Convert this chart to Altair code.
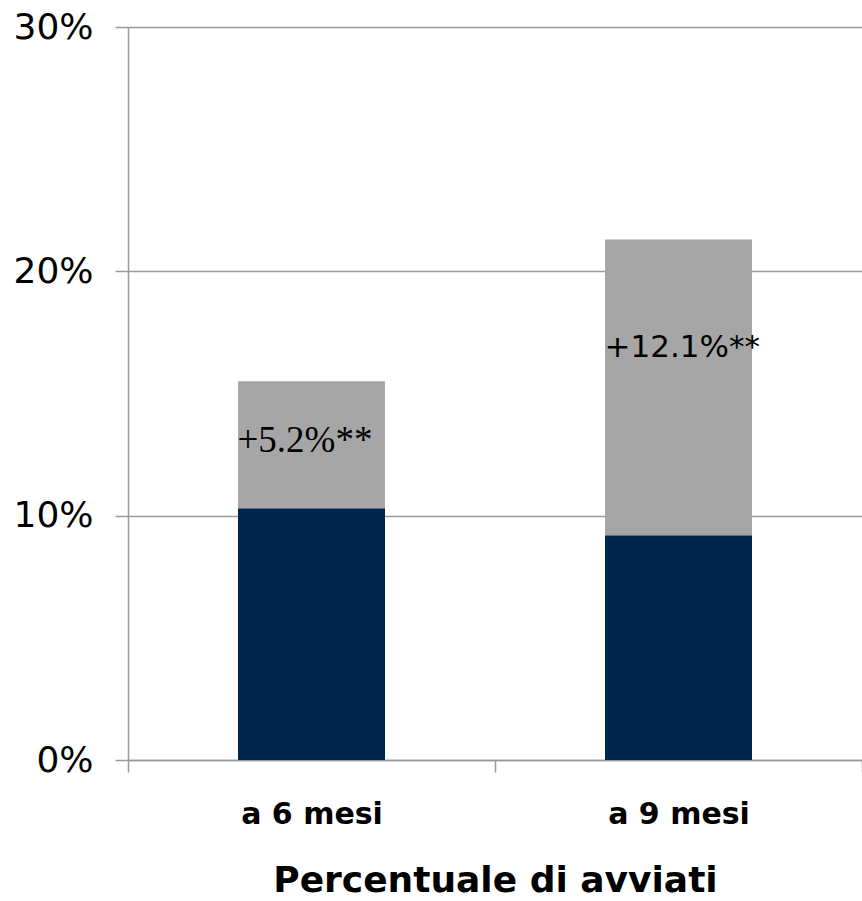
import altair as alt
import pandas as pd

# Quota di avviati: base (blu) e incremento (grigio) a 6 e 9 mesi
periods = ["a 6 mesi", "a 9 mesi"]
base_pct = [10.3, 9.2]
gain_pct = [5.2, 12.1]
gain_labels = ["+5.2%**", "+12.1%**"]

segments = ["base", "incremento"]
seg_colors = ["#00264d", "#a6a6a6"]

rows = []
for p, b, g in zip(periods, base_pct, gain_pct):
    rows.append({"periodo": p, "segmento": "base", "valore": b / 100, "ordine": 0})
    rows.append({"periodo": p, "segmento": "incremento", "valore": g / 100, "ordine": 1})
bars_df = pd.DataFrame(rows)

labels_df = pd.DataFrame({
    "periodo": periods,
    "totale": [(b + g) / 100 for b, g in zip(base_pct, gain_pct)],
    "etichetta": gain_labels,
})

x_enc = alt.X(
    "periodo:N",
    sort=periods,
    scale=alt.Scale(paddingInner=0, paddingOuter=0),
    axis=alt.Axis(
        title="Percentuale di avviati",
        titleFont="DejaVu Sans",
        titleFontSize=36,
        titleFontWeight="bold",
        titleColor="#000000",
        titlePadding=34,
        labelFont="DejaVu Sans",
        labelFontSize=30,
        labelFontWeight="bold",
        labelColor="#000000",
        labelPadding=27,
        labelAngle=0,
        tickBand="extent",
        tickSize=12,
        tickColor="#9a9a9a",
        tickWidth=1.5,
        domainColor="#9a9a9a",
        domainWidth=1.5,
        grid=False,
    ),
)

y_scale = alt.Scale(domain=[0, 0.3], nice=False)

bars = alt.Chart(bars_df).mark_bar(size=147).encode(
    x=x_enc,
    y=alt.Y(
        "valore:Q",
        stack="zero",
        scale=y_scale,
        axis=alt.Axis(
            title=None,
            format=".0%",
            values=[0, 0.1, 0.2, 0.3],
            labelFont="DejaVu Sans",
            labelFontSize=36,
            labelColor="#000000",
            labelPadding=22,
            tickSize=13,
            tickColor="#9a9a9a",
            tickWidth=1.5,
            domainColor="#9a9a9a",
            domainWidth=1.5,
            gridColor="#9a9a9a",
            gridWidth=1.5,
        ),
    ),
    color=alt.Color(
        "segmento:N",
        scale=alt.Scale(domain=segments, range=seg_colors),
        legend=None,
    ),
    order=alt.Order("ordine:Q"),
)

label_first = alt.Chart(labels_df).transform_filter(
    alt.datum.periodo == periods[0]
).mark_text(
    align="left", baseline="alphabetic", dx=-74, dy=71,
    font="Liberation Serif", fontSize=37, color="#000000",
).encode(
    x=alt.X("periodo:N", sort=periods),
    y=alt.Y("totale:Q", scale=y_scale),
    text="etichetta:N",
)

label_second = alt.Chart(labels_df).transform_filter(
    alt.datum.periodo == periods[1]
).mark_text(
    align="left", baseline="alphabetic", dx=-74, dy=117,
    font="DejaVu Sans", fontSize=31, color="#000000",
).encode(
    x=alt.X("periodo:N", sort=periods),
    y=alt.Y("totale:Q", scale=y_scale),
    text="etichetta:N",
)

chart = alt.layer(bars, label_first, label_second).properties(
    width=734,
    height=733,
    padding={"left": 128, "top": 27, "right": 0, "bottom": 141},
    autosize=alt.AutoSizeParams(type="none"),
    background="#ffffff",
).configure_view(stroke=None)

chart.save("out.html", embed_options={"renderer": "svg", "actions": False})
